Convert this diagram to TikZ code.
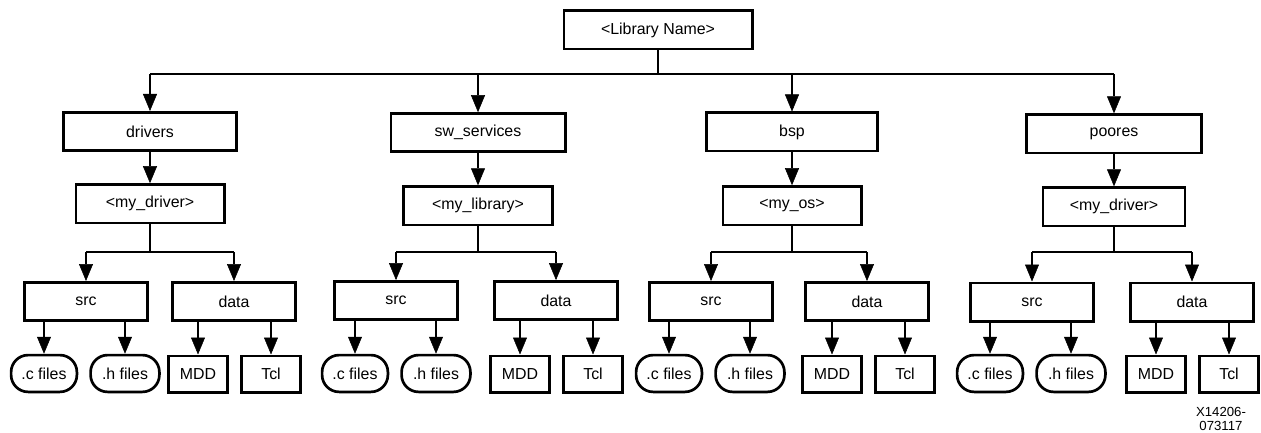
\documentclass[tikz,border=0pt]{standalone}
\usepackage{fontspec}
\setmainfont{Liberation Sans}
\usetikzlibrary{arrows.meta}
\begin{document}
\begin{tikzpicture}[x=1pt,y=-1pt,
  box/.style={draw, line width=2.7pt, inner sep=0pt, font=\fontsize{15.9}{19}\selectfont},
  leaf/.style={box, rounded corners=17pt},
  wh/.style 2 args={minimum width=#1pt-2.7pt, minimum height=#2pt-2.7pt},
  conn/.style={line width=1.7pt},
  arr/.style={line width=1.7pt, -{Triangle[length=17pt,width=14pt,fill=black,line width=0.5pt]}}]
\useasboundingbox (0,0) rectangle (1261,433);
\node[box, wh={191}{41}] (lib) at (658,30) {<Library Name>};
\coordinate (bus) at (658,74);
\foreach \g/\tt/\tx/\ty/\tw/\mt/\my/\mw/\sx/\dx/\ly/\cx/\hx/\Mx/\Tx in {
 1/drivers/150/131.5/176/<my\_driver>/203.7/151/86/234/301.5/44/125/198/271,
 2/sw\_services/478/132.7/177/<my\_library>/205.8/152/396/556/300.6/355/436/520/593,
 3/bsp/792/132/174/<my\_os>/205.7/141/711/867/301.5/669/750/832/905,
 4/poores/1114/133.8/178/<my\_driver>/206.8/144.5/1032/1192/302/990/1071/1156/1229}{
  \node[box, wh={\tw}{41}] (t\g) at (\tx,\ty) {\tt};
  \node[box, wh={\mw}{41}] (m\g) at (\tx,\my) {\mt};
  \node[box, wh={126}{41}] (s\g) at (\sx,\ly) {src};
  \node[box, wh={126}{41}] (d\g) at (\dx,\ly) {data};
  \node[leaf, wh={68.5}{39.5}] (c\g) at (\cx,373.5) {.c files};
  \node[leaf, wh={71.5}{39.5}] (h\g) at (\hx,373.5) {.h files};
  \node[box, wh={61.5}{39}] (M\g) at (\Mx,374) {MDD};
  \node[box, wh={62}{39}] (T\g) at (\Tx,374) {Tcl};
  \coordinate (b\g) at (\tx,252);
  \draw[arr] (t\g.south) -- (m\g.north);
  \draw[conn] (m\g.south) -- (b\g);
  \draw[conn] (s\g.north |- b\g) -- (d\g.north |- b\g);
  \draw[arr] (s\g.north |- b\g) -- (s\g.north);
  \draw[arr] (d\g.north |- b\g) -- (d\g.north);
  \draw[arr] (c\g.north |- s\g.south) -- (c\g.north);
  \draw[arr] (h\g.north |- s\g.south) -- (h\g.north);
  \draw[arr] (M\g.north |- d\g.south) -- (M\g.north);
  \draw[arr] (T\g.north |- d\g.south) -- (T\g.north);
}
\draw[conn] (lib.south) -- (bus);
\draw[conn] (t1.north |- bus) -- (t4.north |- bus);
\foreach \g in {1,2,3,4} \draw[arr] (t\g.north |- bus) -- (t\g.north);
\node[align=center, inner sep=0pt, font=\fontsize{13.2}{14.5}\selectfont] (fig) at (1221,419) {X14206-\\073117};
\end{tikzpicture}
\end{document}
